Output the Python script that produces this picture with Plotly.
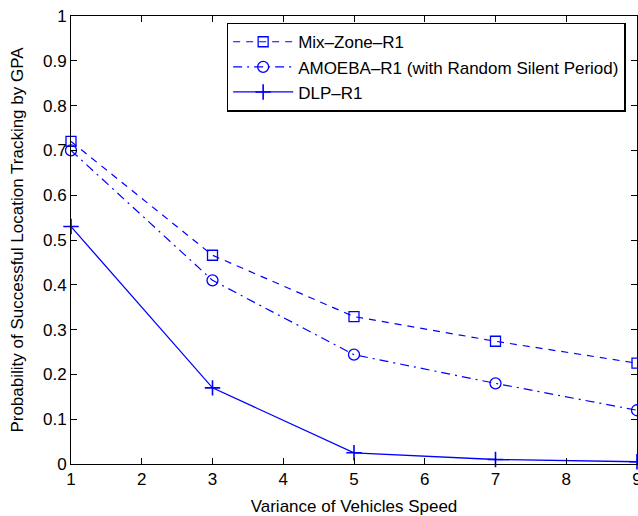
import plotly.graph_objects as go

# values
speed_variance = [1, 3, 5, 7, 9]
mix_zone = [0.72, 0.466, 0.329, 0.274, 0.225]
amoeba = [0.70, 0.41, 0.244, 0.18, 0.12]
dlp = [0.53, 0.17, 0.025, 0.01, 0.005]

blue = 'rgb(0,0,255)'
font = dict(family='Liberation Sans, Arial, sans-serif', size=17, color='black')

fig = go.Figure()

fig.add_trace(go.Scatter(
    x=speed_variance, y=mix_zone, name='Mix\u2013Zone\u2013R1',
    mode='lines+markers', cliponaxis=False,
    line=dict(color=blue, width=1.2, dash='7px,6px'),
    marker=dict(symbol='square-open', size=10, color=blue, line=dict(width=1.3)),
))
fig.add_trace(go.Scatter(
    x=speed_variance, y=amoeba, name='AMOEBA\u2013R1 (with Random Silent Period)',
    mode='lines+markers', cliponaxis=False,
    line=dict(color=blue, width=1.2, dash='9px,5px,2px,5px'),
    marker=dict(symbol='circle-open', size=11, color=blue, line=dict(width=1.3)),
))
fig.add_trace(go.Scatter(
    x=speed_variance, y=dlp, name='DLP\u2013R1',
    mode='lines+markers', cliponaxis=False,
    line=dict(color=blue, width=1.3),
    marker=dict(symbol='cross-thin-open', size=11, color=blue, line=dict(width=1.6, color=blue)),
))

axis_style = dict(
    showgrid=False, zeroline=False, showline=True, linecolor='black', linewidth=1,
    mirror='ticks', ticks='inside', ticklen=6, tickcolor='black',
    tickfont=font, automargin=False, ticklabeloverflow='allow',
)

fig.update_layout(
    width=638, height=516,
    margin=dict(l=71, r=1, t=16, b=52),
    paper_bgcolor='white', plot_bgcolor='white',
    font=font,
    xaxis=dict(axis_style, range=[1, 9], dtick=1,
               title=dict(text='Variance of Vehicles Speed', font=dict(size=17))),
    yaxis=dict(axis_style, range=[0, 1], dtick=0.1, tickformat='.1~f',
               title=dict(text='Probability of Successful Location Tracking by GPA',
                          font=dict(size=17))),
    legend=dict(
        x=0.275, y=0.985, xanchor='left', yanchor='top',
        bordercolor='black', borderwidth=1.5, bgcolor='white',
        font=dict(size=17), tracegroupgap=0, itemwidth=60,
    ),
)

# drop the default 8px page margin so the figure fills the window
fig.write_html('out.html', config={'displayModeBar': False},
               post_script="document.body.style.margin='0';document.body.style.overflow='hidden';")
